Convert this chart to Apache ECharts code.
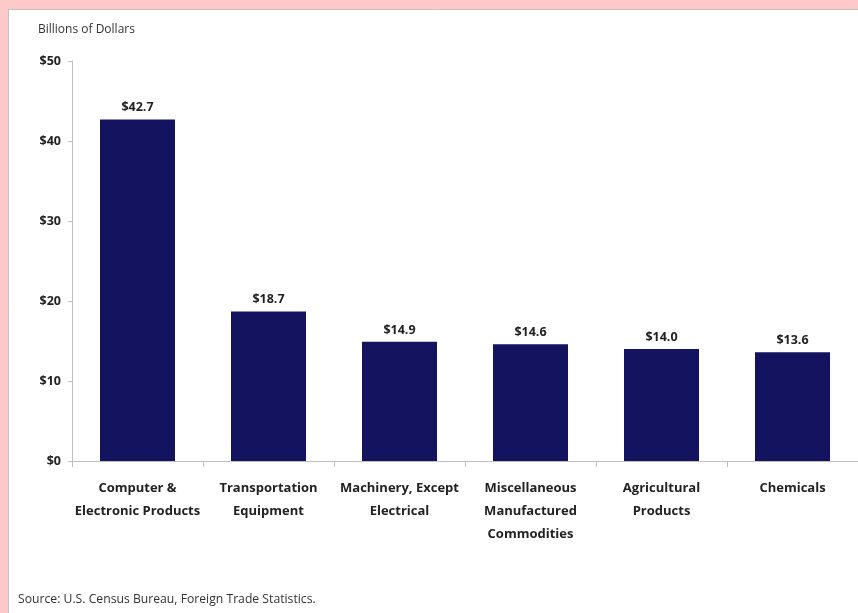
<!DOCTYPE html>
<html>
<head>
<meta charset="utf-8">
<script src="https://cdn.jsdelivr.net/npm/echarts@6/dist/echarts.min.js"></script>
<style>
html,body{margin:0;padding:0;background:#ffc9c9;}
#chart{width:858px;height:613px;}
</style>
</head>
<body>
<div id="chart"></div>
<script>
var categories = ["Computer &\nElectronic Products", "Transportation\nEquipment", "Machinery, Except\nElectrical", "Miscellaneous\nManufactured\nCommodities", "Agricultural\nProducts", "Chemicals"];
var values = [42.7, 18.7, 14.9, 14.6, 14.0, 13.6];
var yTicks = [0, 10, 20, 30, 40, 50];

var FONT = '"Open Sans", sans-serif';
var chart = echarts.init(document.getElementById('chart'));
chart.setOption({
  backgroundColor: 'transparent',
  animation: false,
  graphic: [
    {type: 'rect', left: 8, top: 9, shape: {width: 870, height: 620}, style: {fill: '#ffffff', stroke: '#c8c0c0', lineWidth: 1}, z: -10},
    {type: 'text', left: 38, top: 24, style: {text: 'Billions of Dollars', font: '12px ' + FONT, fill: '#333333'}},
    {type: 'text', left: 18, top: 594, style: {text: 'Source: U.S. Census Bureau, Foreign Trade Statistics.', font: '12.2px ' + FONT, fill: '#333333'}}
  ],
  grid: {left: 72, right: 0, top: 61, bottom: 152},
  xAxis: {
    type: 'category',
    data: categories,
    axisLine: {lineStyle: {color: '#bfbfbf', width: 1}},
    axisTick: {show: true, length: 6, lineStyle: {color: '#bfbfbf'}},
    axisLabel: {interval: 0, color: '#222222', fontWeight: 'bold', fontSize: 13, fontFamily: FONT, lineHeight: 23, margin: 16}
  },
  yAxis: {
    type: 'value',
    min: 0, max: 50, interval: 10,
    axisLine: {show: true, lineStyle: {color: '#bfbfbf', width: 1}},
    axisTick: {show: true, length: 4, lineStyle: {color: '#bfbfbf'}},
    splitLine: {show: false},
    axisLabel: {color: '#222222', fontWeight: 'bold', fontSize: 12.5, fontFamily: FONT, margin: 11,
      formatter: function (v) { return yTicks.indexOf(v) >= 0 ? '$' + v : ''; }}
  },
  series: [{
    type: 'bar',
    data: values,
    barWidth: 75,
    itemStyle: {color: '#13135f'},
    label: {show: true, position: 'top', distance: 5, color: '#222222', fontWeight: 'bold', fontSize: 12.5, fontFamily: FONT,
      formatter: function (p) { return '$' + p.value.toFixed(1); }}
  }]
});
</script>
</body>
</html>
